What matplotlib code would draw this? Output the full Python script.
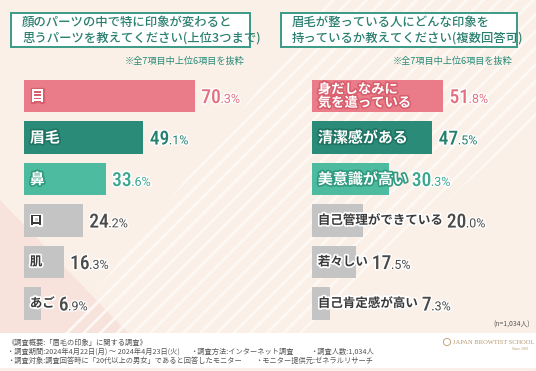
import matplotlib as mpl
mpl.use('Agg')
import matplotlib.pyplot as plt
import matplotlib.patheffects as pe
from matplotlib.patches import Rectangle, Polygon, Circle

plt.rcParams['font.family'] = ['Noto Sans CJK JP', 'DejaVu Sans']

# data
left_cats = ['目', '眉毛', '鼻', '口', '肌', 'あご']
left_vals = [70.3, 49.1, 33.6, 24.2, 16.3, 6.9]
right_cats = ['身だしなみに\n気を遣っている', '清潔感がある', '美意識が高い',
              '自己管理ができている', '若々しい', '自己肯定感が高い']
right_vals = [51.8, 47.5, 30.3, 20.0, 17.5, 7.3]

left_title = '顔のパーツの中で特に印象が変わると\n思うパーツを教えてください(上位3つまで)'
right_title = '眉毛が整っている人にどんな印象を\n持っているか教えてください(複数回答可)'
note = '※全7項目中上位6項目を抜粋'

PINK, DTEAL, LTEAL, GRAY = '#ea7b88', '#2a8c78', '#4dbb9f', '#c4c4c4'
bar_colors = [PINK, DTEAL, LTEAL, GRAY, GRAY, GRAY]
val_colors = ['#e2707e', '#24806e', '#3aa88e', '#4a4a4a', '#4a4a4a', '#4a4a4a']
lab_strokes = ['#d8606e', '#1f7463', '#2f9a80', 'white', 'white', 'white']
lab_fill = ['white', 'white', 'white', '#3a3a3a', '#3a3a3a', '#3a3a3a']
lab_size = [10.8, 10.8, 10.8, 9.0, 9.0, 9.0]

W, H = 536, 371
fig = plt.figure(figsize=(W / 100, H / 100), dpi=100)
fig.patch.set_facecolor('#faf0e8')


def fx(x):
    return x / W


def fy(y):
    return 1 - y / H


# background decoration: pinker lower-left corner, diagonal stripes
bg = fig.add_axes([0, 0, 1, 1], zorder=-5)
bg.set_xlim(0, W)
bg.set_ylim(H, 0)
bg.axis('off')
bg.add_patch(Polygon([(0, 200), (0, 335), (130, 335)], closed=True,
                     facecolor='#f7e3dc', edgecolor='none'))
plt.rcParams['hatch.linewidth'] = 2.0
bg.add_patch(Polygon([(330, 0), (536, 0), (536, 120), (300, 335), (60, 335)],
                     closed=True, facecolor='none', edgecolor='#fdf8f4',
                     hatch='//', linewidth=0))
bg.add_patch(Rectangle((0, 333), W, 35, facecolor='white', edgecolor='none'))

# title boxes
for x0, x1, txt in [(11, 250, left_title), (281, 517, right_title)]:
    bg.add_patch(Rectangle((x0, 13), x1 - x0, 34, facecolor='white',
                           edgecolor='#3a9a87', linewidth=1.4))
    bg.text(x0 + 11, 30, txt, fontsize=8.9, color='#2a7f6f', va='center',
            ha='left', fontweight='medium', linespacing=1.3)
bg.text(245, 61, note, fontsize=6.6, color='#2a8c78', ha='right', va='center')
bg.text(513, 61, note, fontsize=6.6, color='#2a8c78', ha='right', va='center')


def panel(left_px, px_per_pct, cats, vals):
    width_px = 215
    ax = fig.add_axes([fx(left_px), fy(75.25 + 249), fx(width_px), 249 / H])
    ax.set_xlim(0, width_px / px_per_pct)
    ax.set_ylim(len(vals) - 0.5, -0.5)
    ax.axis('off')
    pos = list(range(len(vals)))
    ax.barh(pos, vals, height=0.795, color=bar_colors)
    renderer = fig.canvas.get_renderer()
    for i, (c, v) in enumerate(zip(cats, vals)):
        fs = 9.6 if '\n' in c else lab_size[i]
        lab = ax.annotate(c, (0, i), xytext=(4.2, 0), textcoords='offset points',
                          va='center', ha='left', fontsize=fs, color=lab_fill[i],
                          fontweight='bold', linespacing=0.95,
                          path_effects=[pe.withStroke(linewidth=2.4,
                                                      foreground=lab_strokes[i])])
        # value goes after the bar end or after the label, whichever is further
        lab_end = lab.get_window_extent(renderer).x1 + 4
        bar_end = ax.transData.transform((v, i))[0] + 6.5
        xval = ax.transData.inverted().transform((max(lab_end, bar_end), 0))[0]
        ip, dp = f'{v:.1f}'.split('.')
        t1 = ax.annotate(ip, (xval, i), xytext=(0, -1.5), textcoords='offset points',
                         va='center', ha='left', fontsize=14,
                         family=['Roboto Condensed', 'Roboto'],
                         color=val_colors[i], fontweight='medium',
                         path_effects=[pe.withStroke(linewidth=2, foreground='white')])
        t1.draw(renderer)
        ax.annotate('.' + dp + '%', xy=(1, 0), xycoords=t1, xytext=(-0.3, 0.9),
                    textcoords='offset points', va='bottom', ha='left',
                    fontsize=9, family='Roboto', color=val_colors[i],
                    path_effects=[pe.withStroke(linewidth=2, foreground='white')])
    return ax


panel(24, 2.43, left_cats, left_vals)
panel(312, 2.53, right_cats, right_vals)

# sample size and footer
bg.text(530, 325, '(n=1,034人)', fontsize=4.9, color='#555555', ha='right', va='center')
foot_kw = dict(fontsize=5.2, color='#555555', va='center', ha='left')
bg.text(7, 343, '《調査概要:「眉毛の印象」に関する調査》', **foot_kw)
bg.text(7, 352, '・調査期間:2024年4月22日(月) ～ 2024年4月23日(火)', **foot_kw)
bg.text(190, 352, '・調査方法:インターネット調査', **foot_kw)
bg.text(310, 352, '・調査人数:1,034人', **foot_kw)
bg.text(7, 361, '・調査対象:調査回答時に「20代以上の男女」であると回答したモニター', **foot_kw)
bg.text(255, 361, '・モニター提供元:ゼネラルリサーチ', **foot_kw)

# logo
bg.add_patch(Circle((447, 342), 3.6, facecolor='none', edgecolor='#c4a57c',
                    linewidth=0.7))
bg.text(453, 342, 'JAPAN BROWTIST SCHOOL', fontsize=4.7, family='Liberation Serif',
        color='#b8996c', va='center', ha='left')
bg.text(528, 348.5, 'Since 2009', fontsize=2.6, family='Liberation Serif',
        color='#b8996c', va='center', ha='right')

fig.savefig('out.png', dpi=100, facecolor=fig.get_facecolor())
